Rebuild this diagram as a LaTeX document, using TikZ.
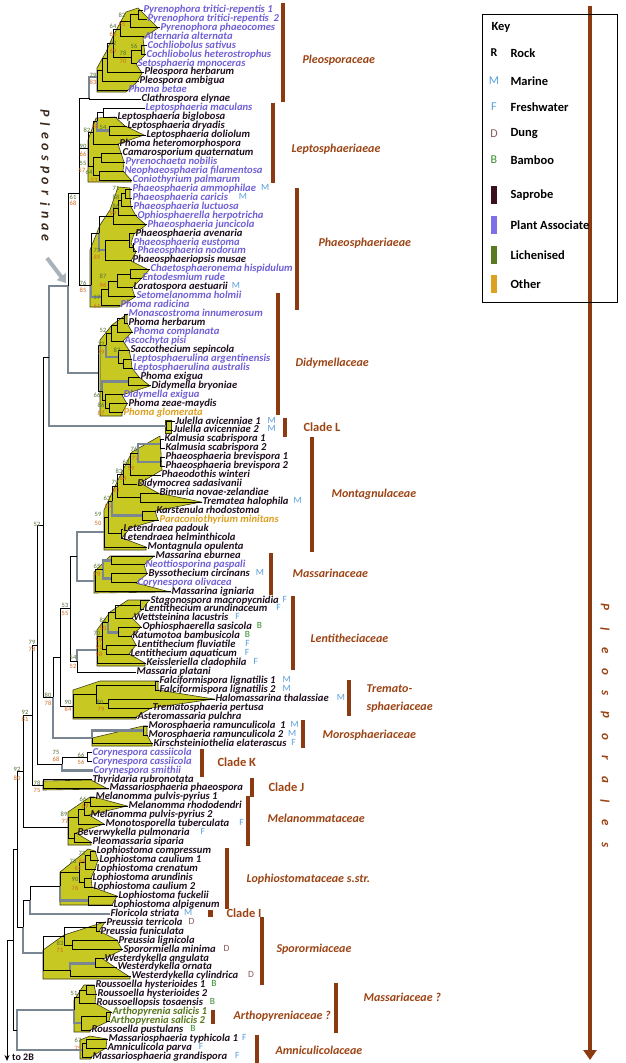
\documentclass[tikz,border=0pt]{standalone}
\usepackage{fontspec}
\setmainfont{Carlito}
\usetikzlibrary{arrows.meta}
\definecolor{plant}{RGB}{112,96,214}
\definecolor{sap}{RGB}{30,14,30}
\definecolor{oth}{RGB}{222,160,32}
\definecolor{lich}{RGB}{88,120,30}
\definecolor{fam}{RGB}{156,68,20}
\definecolor{barc}{RGB}{139,58,18}
\definecolor{shade}{RGB}{200,200,34}
\definecolor{shadeline}{RGB}{60,60,20}
\definecolor{gbr}{RGB}{122,134,146}
\definecolor{bsg}{RGB}{80,110,50}
\definecolor{bso}{RGB}{210,105,30}
\definecolor{mar}{RGB}{90,160,220}
\definecolor{dung}{RGB}{140,90,90}
\definecolor{bam}{RGB}{50,140,40}
\definecolor{garrow}{RGB}{170,178,186}
\definecolor{pintext}{RGB}{60,42,30}
\definecolor{keysap}{RGB}{58,16,32}
\definecolor{keyplant}{RGB}{128,112,232}
\definecolor{keylich}{RGB}{90,122,32}
\tikzset{
 leaf/.style={anchor=west, inner sep=0.3pt, font=\fontsize{10.6}{11}\selectfont\bfseries\itshape, text height=6.2pt, text depth=1.6pt},
 hab/.style={anchor=west, inner sep=0.3pt, font=\fontsize{9.5}{10}\selectfont, text height=6.2pt, text depth=1.6pt, yshift=1pt},
 br/.style={draw=black, line width=0.9pt},
 gb/.style={draw=gbr, line width=2.6pt},
 bs/.style={font=\fontsize{6.5}{7}\selectfont, inner sep=0pt},
 famlab/.style={anchor=west, text=fam, font=\fontsize{12}{13}\selectfont\bfseries\itshape},
 cladelab/.style={anchor=west, text=fam, font=\fontsize{12.5}{13}\selectfont\bfseries},
 famline/.style={draw=barc, line width=3.5pt},
 clade/.style={fill=shade, draw=shadeline, line width=0.6pt},
 keyt/.style={anchor=west, font=\fontsize{12.5}{13}\selectfont\bfseries},
 keyl/.style={font=\fontsize{12}{13}\selectfont},
}
\newcommand\lf[4]{\node[leaf,text=#3] (l#1) at (#2,{10+(#1-1)*8.95}) {#4};}
\newcommand\hb[4]{\node[hab,text=#3] (h#1) at ([xshift=#2pt]l#1.east) {#4};}
\newcommand\nd[3]{\coordinate (#1) at (#2,#3);}
\newcommand\ed[2]{\draw[br] (#1) |- (#2);}
\newcommand\el[2]{\draw[br] (#1) |- (l#2.west);}
\newcommand\eg[2]{\draw[gb] (#1) |- (#2);}
\newcommand\egl[2]{\draw[gb] (#1) |- (l#2.west);}
\newcounter{bsn}
\newcommand\bs[4]{\stepcounter{bsn}\node[bs,text=#3] (bs\arabic{bsn}) at (#1,#2) {#4};}
\newcommand\fbar[4]{\coordinate (#1a) at (#2,#3); \coordinate (#1b) at (#2,#4); \draw[famline] (#1a) -- (#1b);}
\begin{document}
\begin{tikzpicture}[x=1pt,y=-1pt]
\useasboundingbox (0,0) rectangle (625,1063);
\fill[white] (0,0) rectangle (625,1063);
% ---------- clade shading
\filldraw[clade] (97,92) -- (97,68) -- (106,52) -- (113,36) -- (126,12) -- (138,8) -- (158,28) -- (143,38) -- (145,55) -- (136,64) -- (142,73) -- (137,82) -- (126,92) -- cycle;
\filldraw[clade] (88,182) -- (88,140) -- (96,118) -- (115,117) -- (125,126) -- (144,135) -- (118,144) -- (121,153) -- (124,162) -- (123,171) -- (131,180) -- (131,182) -- cycle;
\filldraw[clade] (90,307) -- (90,250) -- (100,225) -- (110,210) -- (118,187) -- (130,188) -- (130,197) -- (131,207) -- (136,216) -- (146,225) -- (134,234) -- (131,243) -- (136,252) -- (131,261) -- (149,270) -- (141,279) -- (132,288) -- (135,297) -- (119,307) -- cycle;
\filldraw[clade] (100,416) -- (100,340) -- (112,325) -- (127,314) -- (127,323) -- (132,332) -- (123,341) -- (129,350) -- (131,359) -- (132,368) -- (139,377) -- (150,386) -- (122,395) -- (127,404) -- (122,413) -- (122,416) -- cycle;
\filldraw[clade] (165,420) rectangle (171,433);
\filldraw[clade] (104,550) -- (104,510) -- (118,480) -- (132,452) -- (160,436) -- (162,470) -- (140,483) -- (158,493) -- (201,502) -- (155,511) -- (158,520) -- (130,528) -- (122,538) -- (146,547) -- (146,550) -- cycle;
\filldraw[clade] (94,593) -- (94,572) -- (110,556) -- (154,556) -- (144,565) -- (147,574) -- (136,583) -- (170,592) -- cycle;
\filldraw[clade] (97,666) -- (97,630) -- (110,612) -- (128,600) -- (149,600) -- (143,609) -- (132,618) -- (141,627) -- (131,636) -- (136,645) -- (129,654) -- (145,663) -- (145,666) -- cycle;
\filldraw[clade] (73,719) -- (73,690) -- (100,681) -- (158,681) -- (158,690) -- (214,699) -- (151,708) -- (136,717) -- (136,719) -- cycle;
\filldraw[clade] (92,746) -- (92,738) -- (143,726) -- (147,726) -- (147,735) -- (152,744) -- (152,746) -- cycle;
\filldraw[clade] (43,790) -- (43,781) -- (91,780) -- (108,789) -- cycle;
\filldraw[clade] (68,845) -- (68,812) -- (90,797) -- (94,797) -- (127,806) -- (89,815) -- (104,824) -- (76,833) -- (91,842) -- (91,845) -- cycle;
\filldraw[clade] (60,905) -- (60,872) -- (80,856) -- (88,849) -- (95,851) -- (98,860) -- (95,869) -- (91,878) -- (92,887) -- (117,896) -- (112,905) -- cycle;
\filldraw[clade] (43,979) -- (43,950) -- (64,935) -- (95,925) -- (105,922) -- (99,931) -- (117,940) -- (122,950) -- (103,959) -- (116,968) -- (130,977) -- (130,979) -- cycle;
\filldraw[clade] (74,1032) -- (74,1000) -- (84,985) -- (94,985) -- (96,994) -- (95,1003) -- (111,1012) -- (109,1021) -- (90,1030) -- (90,1032) -- cycle;
\filldraw[clade] (80,1059) -- (80,1040) -- (90,1036) -- (107,1039) -- (106,1048) -- (91,1057) -- (91,1059) -- cycle;
% ---------- leaves
\lf{1}{143}{plant}{Pyrenophora tritici-repentis 1}
\lf{2}{147}{plant}{Pyrenophora tritici-repentis\ \ 2}
\lf{3}{160}{plant}{Pyrenophora phaeocomes}
\lf{4}{144}{plant}{Alternaria alternata}
\lf{5}{147}{plant}{Cochliobolus sativus}
\lf{6}{146}{plant}{Cochliobolus heterostrophus}
\lf{7}{137}{plant}{Setosphaeria monoceras}
\lf{8}{144}{sap}{Pleospora herbarum}
\lf{9}{139}{sap}{Pleospora ambigua}
\lf{10}{128}{plant}{Phoma betae}
\lf{11}{141}{sap}{Clathrospora elynae}
\lf{12}{145}{plant}{Leptosphaeria maculans}
\lf{13}{117}{sap}{Leptosphaeria biglobosa}
\lf{14}{127}{sap}{Leptosphaeria dryadis}
\lf{15}{146}{sap}{Leptosphaeria doliolum}
\lf{16}{119}{sap}{Phoma heteromorphospora}
\lf{17}{122}{sap}{Camarosporium quaternatum}
\lf{18}{125}{plant}{Pyrenochaeta nobilis}
\lf{19}{124}{plant}{Neophaeosphaeria filamentosa}
\lf{20}{132}{plant}{Coniothyrium palmarum}
\lf{21}{132}{plant}{Phaeosphaeria ammophilae}
\lf{22}{132}{plant}{Phaeosphaeria caricis}
\lf{23}{133}{plant}{Phaeosphaeria luctuosa}
\lf{24}{137}{plant}{Ophiosphaerella herpotricha}
\lf{25}{147}{plant}{Phaeosphaeria juncicola}
\lf{26}{135}{sap}{Phaeosphaeria avenaria}
\lf{27}{133}{plant}{Phaeosphaeria eustoma}
\lf{28}{137}{plant}{Phaeosphaeria nodorum}
\lf{29}{132}{sap}{Phaeosphaeriopsis musae}
\lf{30}{150}{plant}{Chaetosphaeronema hispidulum}
\lf{31}{142}{plant}{Entodesmium rude}
\lf{32}{133}{sap}{Loratospora aestuarii}
\lf{33}{136}{plant}{Setomelanomma holmii}
\lf{34}{120}{plant}{Phoma radicina}
\lf{35}{128}{plant}{Monascostroma innumerosum}
\lf{36}{128}{sap}{Phoma herbarum}
\lf{37}{133}{plant}{Phoma complanata}
\lf{38}{124}{plant}{Ascochyta pisi}
\lf{39}{130}{sap}{Saccothecium sepincola}
\lf{40}{132}{plant}{Leptosphaerulina argentinensis}
\lf{41}{133}{plant}{Leptosphaerulina australis}
\lf{42}{140}{sap}{Phoma exigua}
\lf{43}{151}{sap}{Didymella bryoniae}
\lf{44}{123}{plant}{Didymella exigua}
\lf{45}{128}{sap}{Phoma zeae-maydis}
\lf{46}{123}{oth}{Phoma glomerata}
\lf{47}{175}{sap}{Julella avicenniae 1}
\lf{48}{173}{sap}{Julella avicenniae 2}
\lf{49}{164}{sap}{Kalmusia scabrispora 1}
\lf{50}{165}{sap}{Kalmusia scabrispora 2}
\lf{51}{165}{sap}{Phaeosphaeria brevispora 1}
\lf{52}{165}{sap}{Phaeosphaeria brevispora 2}
\lf{53}{161}{sap}{Phaeodothis winteri}
\lf{54}{137}{sap}{Didymocrea sadasivanii}
\lf{55}{159}{sap}{Bimuria novae-zelandiae}
\lf{56}{202}{sap}{Trematea halophila}
\lf{57}{156}{sap}{Karstenula rhodostoma}
\lf{58}{159}{oth}{Paraconiothyrium minitans}
\lf{59}{123}{sap}{Letendraea padouk}
\lf{60}{123}{sap}{Letendraea helminthicola}
\lf{61}{147}{sap}{Montagnula opulenta}
\lf{62}{155}{sap}{Massarina eburnea}
\lf{63}{145}{plant}{Neottiosporina paspali}
\lf{64}{148}{sap}{Byssothecium circinans}
\lf{65}{137}{plant}{Corynespora olivacea}
\lf{66}{171}{sap}{Massarina igniaria}
\lf{67}{150}{sap}{Stagonospora macropycnidia}
\lf{68}{144}{sap}{Lentithecium arundinaceum}
\lf{69}{133}{sap}{Wettsteinina lacustris}
\lf{70}{142}{sap}{Ophiosphaerella sasicola}
\lf{71}{132}{sap}{Katumotoa bambusicola}
\lf{72}{137}{sap}{Lentithecium fluviatile}
\lf{73}{130}{sap}{Lentithecium aquaticum}
\lf{74}{146}{sap}{Keissleriella cladophila}
\lf{75}{136}{sap}{Massaria platani}
\lf{76}{159}{sap}{Falciformispora lignatilis 1}
\lf{77}{159}{sap}{Falciformispora lignatilis 2}
\lf{78}{215}{sap}{Halomassarina thalassiae}
\lf{79}{152}{sap}{Trematosphaeria pertusa}
\lf{80}{137}{sap}{Asteromassaria pulchra}
\lf{81}{148}{sap}{Morosphaeria ramunculicola\ \ 1}
\lf{82}{148}{sap}{Morosphaeria ramunculicola 2}
\lf{83}{153}{sap}{Kirschsteiniothelia elaterascus}
\lf{84}{92}{plant}{Corynespora cassiicola}
\lf{85}{92}{plant}{Corynespora cassiicola}
\lf{86}{93}{plant}{Corynespora smithii}
\lf{87}{92}{sap}{Thyridaria rubronotata}
\lf{88}{109}{sap}{Massariosphaeria phaeospora}
\lf{89}{95}{sap}{Melanomma pulvis-pyrius 1}
\lf{90}{128}{sap}{Melanomma rhododendri}
\lf{91}{90}{sap}{Melanomma pulvis-pyrius 2}
\lf{92}{105}{sap}{Monotosporella tuberculata}
\lf{93}{77}{sap}{Beverwykella pulmonaria}
\lf{94}{92}{sap}{Pleomassaria siparia}
\lf{95}{96}{sap}{Lophiostoma compressum}
\lf{96}{99}{sap}{Lophiostoma caulium 1}
\lf{97}{96}{sap}{Lophiostoma crenatum}
\lf{98}{92}{sap}{Lophiostoma arundinis}
\lf{99}{93}{sap}{Lophiostoma caulium 2}
\lf{100}{118}{sap}{Lophiostoma fuckelii}
\lf{101}{113}{sap}{Lophiostoma alpigenum}
\lf{102}{110}{sap}{Floricola striata}
\lf{103}{106}{sap}{Preussia terricola}
\lf{104}{100}{sap}{Preussia funiculata}
\lf{105}{118}{sap}{Preussia lignicola}
\lf{106}{123}{sap}{Sporormiella minima}
\lf{107}{104}{sap}{Westerdykella angulata}
\lf{108}{117}{sap}{Westerdykella ornata}
\lf{109}{131}{sap}{Westerdykella cylindrica}
\lf{110}{95}{sap}{Roussoella hysterioides 1}
\lf{111}{97}{sap}{Roussoella hysterioides 2}
\lf{112}{96}{sap}{Roussoellopsis tosaensis}
\lf{113}{112}{lich}{Arthopyrenia salicis 1}
\lf{114}{110}{lich}{Arthopyrenia salicis 2}
\lf{115}{91}{sap}{Roussoella pustulans}
\lf{116}{108}{sap}{Massariosphaeria typhicola 1}
\lf{117}{107}{sap}{Amniculicola parva}
\lf{118}{92}{sap}{Massariosphaeria grandispora}
% ---------- habitat letters (gap after the name)
\hb{21}{4}{mar}{M}\hb{22}{10}{mar}{M}\hb{32}{3}{mar}{M}
\hb{47}{6}{mar}{M}\hb{48}{8}{mar}{M}\hb{56}{4}{mar}{M}\hb{64}{5}{mar}{M}
\hb{67}{3}{mar}{F}\hb{68}{8}{mar}{F}\hb{69}{6}{mar}{F}\hb{70}{4}{bam}{B}
\hb{71}{4}{bam}{B}\hb{72}{9}{mar}{F}\hb{73}{7}{mar}{F}\hb{74}{6}{mar}{F}
\hb{76}{6}{mar}{M}\hb{77}{6}{mar}{M}\hb{78}{7}{mar}{M}\hb{81}{4}{mar}{M}
\hb{82}{4}{mar}{M}\hb{83}{4}{mar}{F}\hb{92}{9}{mar}{F}\hb{93}{10}{mar}{F}
\hb{102}{4}{mar}{M}\hb{103}{5}{dung}{D}\hb{106}{7}{dung}{D}\hb{109}{9}{dung}{D}
\hb{110}{5}{bam}{B}\hb{112}{6}{bam}{B}\hb{115}{6}{bam}{B}
\hb{116}{3}{mar}{F}\hb{117}{6}{mar}{F}\hb{118}{7}{mar}{F}
% ---------- internal nodes
\nd{a1}{138}{14.5}\nd{a2}{130}{21}\nd{a3}{120}{29}\nd{a4}{141}{50.5}\nd{a5}{131}{57}
\nd{a6}{113}{43}\nd{a7}{107}{58}\nd{a8}{102}{70}\nd{a9}{97}{77}\nd{a10}{89}{98}
\nd{b1}{103}{112.5}\nd{b2}{109}{130.5}\nd{b3}{97}{121}\nd{b4}{93}{132}\nd{b5}{101}{157.5}
\nd{b6}{99}{175.5}\nd{b7}{93}{166}\nd{b8}{88}{148}\nd{X}{79}{193}
\nd{c1}{125}{193.5}\nd{c2}{121}{200}\nd{c3}{118}{208}\nd{c4}{113}{216}\nd{c5a}{133}{247.5}
\nd{c5}{129}{240}\nd{c6}{105}{250}\nd{c11}{99}{233}\nd{c7}{130}{274.5}\nd{c8}{117}{281}
\nd{c9}{108}{289}\nd{c10}{101}{297}\nd{c12}{91}{285}
\nd{d1}{124}{318.5}\nd{d2}{117}{325}\nd{d3}{111}{333}\nd{d4}{123}{363.5}\nd{d5}{118}{357}
\nd{d6}{106}{345}\nd{d7}{128}{381.5}\nd{d8}{109}{408.5}\nd{d9}{105}{400}\nd{d10}{102}{391}
\nd{d11}{98}{373}\nd{pleo}{68}{286}\nd{e1}{166}{426}\nd{pj}{49}{357}
\nd{m1}{160}{444}\nd{m2}{160}{462}\nd{m3}{138}{453}\nd{m4}{130}{464}\nd{m5}{123}{474}
\nd{m6}{140}{497.5}\nd{m8}{117}{486}\nd{m7}{142}{515.5}\nd{m9}{112}{501}\nd{mL}{121}{533.5}
\nd{m10}{108}{517}\nd{m11}{104}{532}
\nd{s1}{111}{560.5}\nd{s2}{111}{578.5}\nd{s3}{103}{569.5}\nd{s4}{95}{581}\nd{mm}{77}{556}
\nd{t1}{140}{605.5}\nd{t2}{115}{612}\nd{t3}{118}{632.5}\nd{t4}{108}{622}\nd{t5}{106}{649.5}
\nd{t6}{102}{636}\nd{t7}{97}{650}\nd{lm}{77}{661}\nd{n5355}{70}{608}
\nd{tf}{155}{685.5}\nd{th}{108}{703.5}\nd{t2r}{96}{694}\nd{tr}{73}{706}\nd{nB}{60}{657}
\nd{mo1}{143}{730.5}\nd{mo}{92}{738}\nd{n8078}{53}{697}\nd{n52}{43}{525}
\nd{k1}{87}{757.5}\nd{k}{62}{764}\nd{n37}{37}{645}\nd{j}{43}{785}\nd{n32}{32}{715}
\nd{me1}{90}{802}\nd{me2}{84}{809}\nd{me3}{78}{817}\nd{meb}{74}{838}\nd{me}{68}{827}\nd{n23}{23}{771}
\nd{lo1}{90}{855.5}\nd{lo2}{85}{862}\nd{lo3}{84}{882.5}\nd{lo4}{79}{872}\nd{lo5}{88}{900.5}
\nd{lo6}{60}{886}\nd{nlf}{30}{900}
\nd{sp1}{96}{927.5}\nd{sp3}{72}{945.5}\nd{sp2}{64}{936}\nd{sp4}{95}{963.5}\nd{sp5}{70}{970}
\nd{sp6}{43}{953}\nd{nls}{23}{927}\nd{n17}{17}{849}
\nd{r1}{86}{990.5}\nd{r2}{79}{997}\nd{r3}{106}{1016.5}\nd{r4}{81}{1023}\nd{r5}{74}{1010}
\nd{am1}{86}{1043.5}\nd{am}{82}{1050}\nd{nra}{17}{1030}\nd{n13}{13}{940}
\nd{root}{7}{940}\nd{rootend}{7}{1061}
% ---------- gray branches
\eg{pj}{e1}\eg{pleo}{d11}\eg{pj}{pleo}\eg{mm}{m11}\eg{mm}{s4}\eg{lm}{t7}\eg{n8078}{mo}
\egl{k}{86}\egl{nlf}{102}\eg{nls}{sp6}\eg{nra}{r5}\eg{nra}{am}
\eg{d6}{d5}\eg{d10}{d7}\eg{m3}{m1}\eg{m3}{m2}\eg{m9}{m7}\eg{c11}{c6}\eg{c12}{c10}
\eg{s3}{s1}\eg{s3}{s2}\eg{t4}{t3}\eg{lo6}{lo5}\eg{r5}{r4}\eg{sp5}{sp4}\eg{mo}{mo1}
\eg{a10}{a9}\eg{b3}{b2}
% ---------- black branches
\el{a1}{1}\el{a1}{2}\ed{a2}{a1}\el{a2}{3}\ed{a3}{a2}\el{a3}{4}\el{a4}{5}\el{a4}{6}
\ed{a5}{a4}\el{a5}{7}\ed{a6}{a3}\ed{a6}{a5}\ed{a7}{a6}\el{a7}{8}\ed{a8}{a7}\el{a8}{9}
\ed{a9}{a8}\el{a9}{10}\el{a10}{11}
\el{b1}{12}\el{b1}{13}\el{b2}{14}\el{b2}{15}\ed{b3}{b1}\ed{b4}{b3}\el{b4}{16}
\el{b5}{17}\el{b5}{18}\el{b6}{19}\el{b6}{20}\ed{b7}{b5}\ed{b7}{b6}\ed{b8}{b4}\ed{b8}{b7}
\ed{X}{a10}\ed{X}{b8}\ed{X}{c12}
\el{c1}{21}\el{c1}{22}\ed{c2}{c1}\el{c2}{23}\ed{c3}{c2}\el{c3}{24}\ed{c4}{c3}\el{c4}{25}
\el{c5a}{27}\el{c5a}{28}\el{c5}{26}\ed{c5}{c5a}\ed{c6}{c5}\el{c6}{29}\ed{c11}{c4}
\el{c7}{30}\el{c7}{31}\ed{c8}{c7}\el{c8}{32}\ed{c9}{c8}\el{c9}{33}\ed{c10}{c9}\el{c10}{34}
\ed{c12}{c11}
\el{d1}{35}\el{d1}{36}\ed{d2}{d1}\el{d2}{37}\ed{d3}{d2}\el{d3}{38}\el{d4}{40}\el{d4}{41}
\el{d5}{39}\ed{d5}{d4}\ed{d6}{d3}\el{d7}{42}\el{d7}{43}\el{d8}{45}\el{d8}{46}\el{d9}{44}
\ed{d9}{d8}\ed{d10}{d9}\ed{d11}{d6}\ed{d11}{d10}\ed{pleo}{X}
\el{e1}{47}\el{e1}{48}
\el{m1}{49}\el{m1}{50}\el{m2}{51}\el{m2}{52}\ed{m4}{m3}\el{m4}{53}\ed{m5}{m4}\el{m5}{54}
\el{m6}{55}\el{m6}{56}\ed{m8}{m5}\ed{m8}{m6}\el{m7}{57}\el{m7}{58}\ed{m9}{m8}
\el{mL}{59}\el{mL}{60}\ed{m10}{m9}\ed{m10}{mL}\ed{m11}{m10}\el{m11}{61}
\el{s1}{62}\el{s1}{63}\el{s2}{64}\el{s2}{65}\ed{s4}{s3}\el{s4}{66}
\el{t1}{67}\el{t1}{68}\ed{t2}{t1}\el{t2}{69}\el{t3}{70}\el{t3}{71}\ed{t4}{t2}
\el{t5}{72}\el{t5}{73}\ed{t6}{t4}\ed{t6}{t5}\ed{t7}{t6}\el{t7}{74}\el{lm}{75}
\ed{n5355}{mm}\ed{n5355}{lm}
\el{tf}{76}\el{tf}{77}\el{th}{78}\el{th}{79}\ed{t2r}{tf}\ed{t2r}{th}\ed{tr}{t2r}\el{tr}{80}
\ed{nB}{n5355}\ed{nB}{tr}
\el{mo1}{81}\el{mo1}{82}\el{mo}{83}\ed{n8078}{nB}
\ed{n52}{pj}\ed{n52}{n8078}
\el{k1}{84}\el{k1}{85}\ed{k}{k1}\ed{n37}{n52}\ed{n37}{k}
\el{j}{87}\el{j}{88}\ed{n32}{n37}\ed{n32}{j}
\el{me1}{89}\el{me1}{90}\ed{me2}{me1}\el{me2}{91}\ed{me3}{me2}\el{me3}{92}
\el{meb}{93}\el{meb}{94}\ed{me}{me3}\ed{me}{meb}\ed{n23}{n32}\ed{n23}{me}
\el{lo1}{95}\el{lo1}{96}\ed{lo2}{lo1}\el{lo2}{97}\el{lo3}{98}\el{lo3}{99}\ed{lo4}{lo2}\ed{lo4}{lo3}
\el{lo5}{100}\el{lo5}{101}\ed{lo6}{lo4}\ed{nlf}{lo6}
\el{sp1}{103}\el{sp1}{104}\el{sp3}{105}\el{sp3}{106}\ed{sp2}{sp1}\ed{sp2}{sp3}
\el{sp4}{107}\el{sp4}{108}\el{sp5}{109}\ed{sp6}{sp2}\ed{sp6}{sp5}
\ed{nls}{nlf}\ed{n17}{n23}\ed{n17}{nls}
\el{r1}{110}\el{r1}{111}\ed{r2}{r1}\el{r2}{112}\el{r3}{113}\el{r3}{114}\ed{r4}{r3}\el{r4}{115}
\ed{r5}{r2}
\el{am1}{116}\el{am1}{117}\ed{am}{am1}\el{am}{118}
\ed{n13}{n17}\ed{n13}{nra}
\draw[br] (n13) -- (root);
\draw[br,-{Stealth[length=6pt,width=5pt]}] (root) -- (rootend);
\node[anchor=west, inner sep=0pt, text=sap, font=\fontsize{10}{11}\selectfont\bfseries] (to2b) at (12,1057) {to 2B};
% ---------- bootstrap values
\bs{122}{15}{bsg}{82}\bs{122}{24}{bso}{85}\bs{113}{26}{bsg}{64}\bs{113}{34}{bso}{66}
\bs{113}{43}{bsg}{92}\bs{113}{51}{bso}{69}\bs{134}{46}{bsg}{56}\bs{123}{53}{bsg}{78}
\bs{123}{61}{bso}{70}\bs{93}{75}{bsg}{79}\bs{93}{82}{bso}{83}
\bs{87}{130}{bsg}{82}\bs{95}{126}{bso}{58}\bs{103}{127}{bsg}{54}\bs{83}{146}{bsg}{90}
\bs{83}{154}{bso}{66}\bs{83}{163}{bsg}{55}\bs{82}{170}{bso}{57}\bs{89}{172}{bsg}{64}
\bs{94}{180}{bso}{53}\bs{73}{197}{bsg}{61}\bs{73}{203}{bso}{68}
\bs{116}{188}{bsg}{71}\bs{116}{197}{bsg}{88}\bs{116}{206}{bsg}{86}\bs{113}{213}{bso}{99}
\bs{97}{250}{bsg}{73}\bs{97}{257}{bso}{89}\bs{83}{283}{bsg}{76}\bs{83}{290}{bso}{85}
\bs{103}{276}{bsg}{87}\bs{103}{285}{bso}{96}\bs{97}{297}{bsg}{59}\bs{97}{306}{bso}{61}
\bs{103}{330}{bsg}{52}\bs{101}{344}{bsg}{72}\bs{101}{352}{bso}{79}\bs{117}{350}{bsg}{87}
\bs{97}{395}{bsg}{66}\bs{101}{405}{bsg}{86}\bs{101}{413}{bso}{87}
\bs{134}{449}{bsg}{76}\bs{135}{458}{bso}{77}\bs{126}{462}{bsg}{63}\bs{131}{468}{bso}{59}
\bs{119}{471}{bsg}{83}\bs{123}{478}{bso}{84}\bs{115}{482}{bsg}{79}\bs{116}{490}{bso}{83}
\bs{107}{498}{bsg}{63}\bs{108}{506}{bso}{55}\bs{98}{514}{bsg}{59}\bs{98}{523}{bso}{50}
\bs{97}{566}{bsg}{65}\bs{97}{574}{bso}{79}\bs{65}{605}{bsg}{53}\bs{65}{613}{bso}{55}
\bs{103}{620}{bsg}{82}\bs{103}{628}{bso}{50}\bs{97}{633}{bsg}{70}\bs{99}{640}{bso}{59}
\bs{99}{647}{bso}{91}\bs{99}{654}{bso}{58}\bs{73}{657}{bsg}{54}\bs{73}{666}{bso}{52}
\bs{68}{702}{bsg}{90}\bs{68}{709}{bso}{84}\bs{100}{702}{bsg}{80}\bs{101}{709}{bso}{79}
\bs{81}{755}{bsg}{66}\bs{81}{762}{bso}{56}\bs{83}{799}{bsg}{66}\bs{85}{806}{bso}{69}
\bs{64}{814}{bsg}{89}\bs{65}{821}{bso}{77}
\bs{37}{524}{bsg}{52}\bs{32}{642}{bsg}{79}\bs{32}{649}{bso}{78}\bs{48}{695}{bsg}{80}
\bs{48}{703}{bso}{78}\bs{25}{712}{bsg}{92}\bs{25}{719}{bso}{81}\bs{56}{752}{bsg}{75}
\bs{56}{759}{bso}{68}\bs{17}{769}{bsg}{92}\bs{17}{778}{bso}{80}\bs{37}{783}{bsg}{78}
\bs{37}{790}{bso}{75}
\bs{82}{853}{bsg}{73}\bs{73}{861}{bsg}{73}\bs{82}{861}{bso}{84}\bs{78}{868}{bso}{61}
\bs{75}{879}{bsg}{90}\bs{75}{888}{bso}{76}\bs{60}{943}{bsg}{83}\bs{60}{950}{bso}{71}
\bs{74}{993}{bsg}{51}\bs{78}{1040}{bsg}{67}\bs{78}{1048}{bso}{75}
% ---------- family bars and labels
\fbar{fb1}{283}{3}{102}\node[famlab] (fl1) at (299,60) {Pleosporaceae};
\fbar{fb2}{273}{103}{183}\node[famlab] (fl2) at (288,149) {Leptosphaeriaeae};
\fbar{fb3}{297}{188}{310}\node[famlab] (fl3) at (315,243) {Phaeosphaeriaeae};
\fbar{fb4}{278}{293}{415}\node[famlab] (fl4) at (292,363) {Didymellaceae};
\fbar{fb5}{285}{418}{437}\node[cladelab] (fl5) at (300,427) {Clade L};
\fbar{fb6}{312}{437}{552}\node[famlab] (fl6) at (328,494) {Montagnulaceae};
\fbar{fb7}{271}{553}{595}\node[famlab] (fl7) at (289,573) {Massarinaceae};
\fbar{fb8}{293}{596}{670}\node[famlab] (fl8) at (307,638) {Lentitheciaceae};
\fbar{fb9}{349}{680}{716}\node[famlab] (fl9a) at (363,689) {Tremato-};
\node[famlab] (fl9b) at (363,707) {sphaeriaceae};
\fbar{fb10}{303}{720}{748}\node[famlab] (fl10) at (319,735) {Morosphaeriaceae};
\fbar{fb11}{202}{749}{777}\node[cladelab] (fl11) at (214,762) {Clade K};
\fbar{fb12}{252}{778}{797}\node[cladelab] (fl12) at (265,787) {Clade J};
\fbar{fb13}{248}{796}{846}\node[famlab] (fl13) at (264,818) {Melanommataceae};
\fbar{fb14}{227}{848}{909}\node[famlab] (fl14) at (243,879) {Lophiostomataceae s.str.};
\fill[barc] (208,910) rectangle (213,917);
\node[cladelab] (fl15) at (223,913) {Clade I};
\fbar{fb16}{262}{917}{985}\node[famlab] (fl16) at (273,949) {Sporormiaceae};
\fbar{fb17}{336}{983}{1033}\node[famlab] (fl17) at (360,997) {Massariaceae ?};
\fbar{fb18}{213}{1010}{1024}\node[famlab] (fl18) at (230,1016) {Arthopyreniaceae ?};
\fbar{fb19}{257}{1035}{1063}\node[famlab] (fl19) at (272,1050) {Amniculicolaceae};
% ---------- Pleosporales arrow
\coordinate (plsa) at (590,6); \coordinate (plsb) at (590,1060);
\draw[barc, line width=4pt, -{Triangle[length=10pt,width=13pt]}] (plsa) -- (plsb);
\foreach \c [count=\i] in {P,l,e,o,s,p,o,r,a,l,e,s}
  \node[rotate=-90, text=fam, font=\fontsize{13}{14}\selectfont\bfseries\itshape] (pls\i) at (605,{607+(\i-1)*21.6}) {\c};
% ---------- Pleosporinae
\foreach \c [count=\i] in {P,l,e,o,s,p,o,r,i,n,a,e}
  \node[rotate=-90, text=pintext, font=\fontsize{14}{15}\selectfont\bfseries\itshape] (pin\i) at (45,{113+(\i-1)*11.4}) {\c};
\coordinate (pina) at (47,258); \coordinate (pinb) at (66,283);
\draw[garrow, line width=4pt, -{Triangle[length=8pt,width=11pt]}] (pina) -- (pinb);
% ---------- key
\draw[line width=0.8pt] (482,14) rectangle (617,302);
\node[keyt] (kkey) at (488,27) {Key};
\node[keyl, font=\fontsize{12}{13}\selectfont\bfseries] (kR) at (494,53) {R};
\node[keyt] (kRt) at (507,53) {Rock};
\node[keyl, text=mar] (kM) at (494,81) {M};
\node[keyt] (kMt) at (507,81) {Marine};
\node[keyl, text=mar] (kF) at (494,107) {F};
\node[keyt] (kFt) at (507,107) {Freshwater};
\node[keyl, text=dung] (kD) at (494,134) {D};
\node[keyt] (kDt) at (507,134) {Dung};
\node[keyl, text=bam] (kB) at (494,160) {B};
\node[keyt] (kBt) at (507,160) {Bamboo};
\fill[keysap] (491,186) rectangle (497,204);
\node[keyt] (kS) at (507,195) {Saprobe};
\fill[keyplant] (491,216) rectangle (497,234);
\node[keyt] (kP) at (507,225) {Plant Associate};
\fill[keylich] (491,246) rectangle (497,264);
\node[keyt] (kL) at (507,255) {Lichenised};
\fill[oth] (491,275) rectangle (497,293);
\node[keyt] (kO) at (507,284) {Other};
\end{tikzpicture}
\end{document}
